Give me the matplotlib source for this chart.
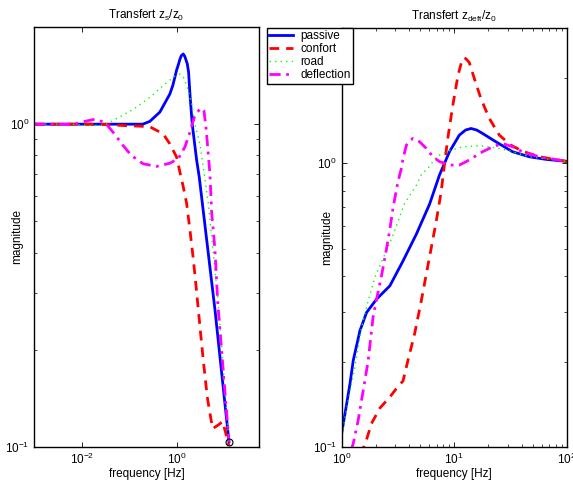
import matplotlib
matplotlib.use("Agg")
import matplotlib.pyplot as plt
from matplotlib.ticker import LogLocator, NullLocator, NullFormatter

plt.rcParams['font.family'] = ['Liberation Sans', 'DejaVu Sans']
plt.rcParams['mathtext.fontset'] = 'custom'
plt.rcParams['mathtext.rm'] = 'Liberation Sans'
plt.rcParams['mathtext.it'] = 'Liberation Sans'
plt.rcParams['mathtext.default'] = 'regular'
plt.rcParams['font.size'] = 8.5

# --- Transfert zs/z0 ---
f_zs_passive = [1e-3, 0.063, 0.192, 0.270, 0.439, 0.712, 0.824, 0.986, 1.075, 1.16,
                1.24, 1.36, 1.47, 1.65, 1.76, 1.88, 2.10, 2.60, 2.95, 6.31, 12.4]
m_zs_passive = [1.0, 1.0, 1.0, 1.02, 1.09, 1.24, 1.32, 1.47, 1.53, 1.59,
                1.63, 1.65, 1.62, 1.54, 1.45, 1.24, 1.0, 0.774, 0.685, 0.266, 0.104]

f_zs_confort = [1e-3, 0.024, 0.080, 0.166, 0.270, 0.515, 0.712, 0.986, 1.16, 1.36,
                1.60, 1.88, 2.20, 2.51, 3.05, 3.58, 4.34, 4.95, 5.64, 7.40, 9.16, 12.4]
m_zs_confort = [1.0, 1.0, 0.99, 0.986, 0.982, 0.933, 0.869, 0.791, 0.710, 0.640,
                0.569, 0.470, 0.385, 0.318, 0.236, 0.186, 0.143, 0.127, 0.114, 0.117, 0.120, 0.101]

f_zs_road = [1e-3, 0.0056, 0.0147, 0.0305, 0.0538, 0.120, 0.270, 0.559, 0.908, 1.16,
             1.40, 1.65, 2.04, 2.39, 3.05, 3.58, 4.56, 5.38, 6.31, 7.40, 12.4]
m_zs_road = [1.0, 1.0, 0.99, 0.993, 1.04, 1.11, 1.21, 1.33, 1.41, 1.43,
             1.39, 1.30, 1.16, 1.0, 0.869, 0.736, 0.569, 0.448, 0.353, 0.279, 0.104]

f_zs_defl = [1e-3, 0.0071, 0.0116, 0.0188, 0.0264, 0.0331, 0.0495, 0.0741, 0.111, 0.195,
             0.374, 0.712, 1.065, 1.47, 1.88, 2.31, 2.70, 3.05, 3.40, 3.70, 4.08, 4.56,
             4.95, 5.38, 5.81, 6.31, 7.19, 12.4]
m_zs_defl = [1.0, 1.0, 1.02, 1.036, 1.02, 1.0, 0.931, 0.859, 0.800, 0.754,
             0.740, 0.757, 0.781, 0.849, 0.944, 1.05, 1.09, 1.115, 1.12, 1.10, 0.979, 0.809,
             0.700, 0.530, 0.470, 0.407, 0.282, 0.104]

# --- Transfert zdeft/z0 ---
f_zd_passive = [1.0, 1.107, 1.184, 1.267, 1.452, 1.664, 2.04, 2.68, 3.51, 4.61,
                6.04, 7.41, 9.08, 11.1, 12.6, 14.1, 15.9, 17.9, 23.5, 33.0, 46.4, 65.2, 100]
m_zd_passive = [0.112, 0.142, 0.167, 0.202, 0.257, 0.298, 0.332, 0.370, 0.453, 0.563,
                0.718, 0.911, 1.099, 1.257, 1.31, 1.327, 1.31, 1.274, 1.191, 1.099, 1.055, 1.033, 1.016]

f_zd_confort = [1.45, 1.61, 1.84, 2.18, 2.68, 3.07, 3.51, 3.88, 4.45, 5.10,
                5.65, 6.26, 6.93, 7.67, 8.09, 8.77, 9.72, 10.8, 11.6, 12.3, 12.8, 13.6,
                15.1, 17.3, 20.5, 25.2, 31.9, 40.4, 56.9, 100]
m_zd_confort = [0.094, 0.102, 0.121, 0.137, 0.150, 0.161, 0.171, 0.202, 0.251, 0.328,
                0.407, 0.505, 0.626, 0.797, 0.953, 1.224, 1.602, 2.04, 2.27, 2.36, 2.33, 2.27,
                1.99, 1.69, 1.44, 1.257, 1.159, 1.104, 1.055, 1.016]

f_zd_road = [1.0, 1.033, 1.144, 1.31, 1.50, 1.72, 1.97, 2.33, 2.86, 3.63,
             4.61, 5.10, 6.04, 6.93, 8.49, 11.9, 16.7, 23.5, 33.0, 46.4, 100]
m_zd_road = [0.106, 0.118, 0.146, 0.191, 0.264, 0.328, 0.396, 0.461, 0.559, 0.724,
             0.837, 0.911, 0.976, 1.055, 1.099, 1.144, 1.154, 1.135, 1.099, 1.055, 1.016]

f_zd_defl = [1.22, 1.267, 1.40, 1.50, 1.61, 1.72, 1.90, 2.07, 2.26, 2.50,
             2.68, 2.86, 3.17, 3.40, 3.51, 3.76, 4.00, 4.30, 4.60, 4.93, 5.65, 6.47,
             7.41, 9.08, 11.1, 12.8, 15.1, 17.9, 22.0, 26.9, 33.0, 40.4, 56.9, 100]
m_zd_defl = [0.098, 0.103, 0.124, 0.146, 0.172, 0.202, 0.287, 0.341, 0.402, 0.499,
             0.586, 0.697, 0.865, 0.963, 1.041, 1.159, 1.20, 1.224, 1.215, 1.191, 1.129, 1.055,
             1.014, 0.986, 0.986, 1.014, 1.055, 1.099, 1.144, 1.175, 1.144, 1.099, 1.055, 1.016]

end_point = (12.3, 0.104)
labels = ['passive', 'confort', 'road', 'deflection']

styles = [dict(color='#0000ff', lw=2.0, ls='-'),
          dict(color='#ff0000', lw=2.0, ls=(0, (3.5, 2.5))),
          dict(color='#00ff00', lw=1.0, ls=(0, (1, 3))),
          dict(color='#ff00ff', lw=2.0, ls=(0, (4, 2, 1, 2)))]

fig = plt.figure(figsize=(5.73, 4.86), dpi=100)
ax1 = fig.add_axes([34 / 573, 39 / 486, 225 / 573, 420 / 486])
ax2 = fig.add_axes([341.7 / 573, 39 / 486, 225 / 573, 419 / 486])

left_data = [(f_zs_passive, m_zs_passive), (f_zs_confort, m_zs_confort),
             (f_zs_road, m_zs_road), (f_zs_defl, m_zs_defl)]
right_data = [(f_zd_passive, m_zd_passive), (f_zd_confort, m_zd_confort),
              (f_zd_road, m_zd_road), (f_zd_defl, m_zd_defl)]

for (f, m), st in zip(left_data, styles):
    ax1.loglog(f, m, **st)
ax1.plot(*end_point, 'o', mfc='none', mec='k', ms=5, mew=0.8)

handles = []
for (f, m), st, lab in zip(right_data, styles, labels):
    h, = ax2.loglog(f, m, label=lab, **st)
    handles.append(h)

ax1.set_xlim(1e-3, 53)
ax1.set_ylim(0.1, 2)
ax2.set_xlim(1, 100)
ax2.set_ylim(0.1, 3)

ax1.set_xticks([1e-2, 1e0])
ax1.xaxis.set_minor_locator(NullLocator())

for ax in (ax1, ax2):
    ax.yaxis.set_major_locator(LogLocator(base=10, numticks=10))
    ax.yaxis.set_minor_locator(LogLocator(base=10, subs=range(2, 10), numticks=10))
    ax.yaxis.set_minor_formatter(NullFormatter())
    ax.tick_params(which='both', direction='in', top=True, right=True, labelsize=8.5)
    ax.tick_params(which='major', length=3.5, width=0.6)
    ax.tick_params(which='minor', length=2, width=0.5)
    for s in ax.spines.values():
        s.set_linewidth(1.0)
    ax.set_xlabel('frequency [Hz]', fontsize=8.5, labelpad=1)
    ax.set_ylabel('magnitude', fontsize=8.5)

ax1.yaxis.set_label_coords(-0.046, 0.5)
ax2.yaxis.set_label_coords(-0.036, 0.5)
ax2.xaxis.set_minor_formatter(NullFormatter())

ax1.set_title('Transfert $z_s/z_0$', fontsize=8.5, pad=6)
ax2.set_title('Transfert $z_{deft}/z_0$', fontsize=8.5, pad=6)

leg = ax2.legend(handles=handles, loc='upper left', bbox_to_anchor=(267 / 573, 1 - 28 / 486),
                 bbox_transform=fig.transFigure, borderaxespad=0, fancybox=False,
                 edgecolor='k', framealpha=1, fontsize=8.5, handlelength=2.0,
                 handletextpad=0.6, labelspacing=0.08, borderpad=0.2)
leg.get_frame().set_linewidth(1.0)

fig.savefig('out.png', dpi=100)
